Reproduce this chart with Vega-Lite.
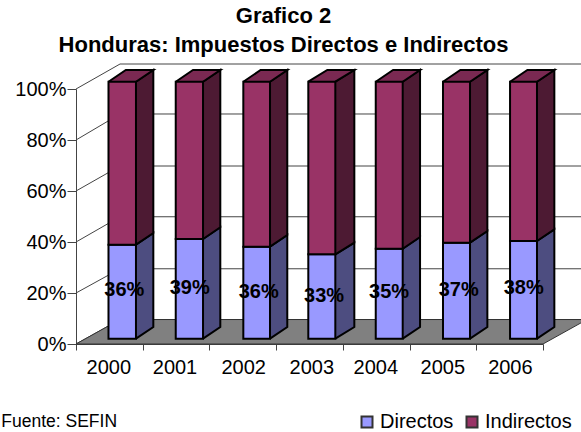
{"$schema":"https://vega.github.io/schema/vega-lite/v6.json","width":467,"height":255,"autosize":"none","padding":{"left":76,"top":89,"right":38,"bottom":88},"background":"white","title":{"text":["Grafico 2","Honduras: Impuestos Directos e Indirectos"],"font":"Liberation Sans","fontSize":22,"fontWeight":"bold","color":"black","anchor":"middle","dx":-26,"offset":5,"lineHeight":29},"config":{"view":{"stroke":null}},"datasets":{"grid":[{"linea":"g0","orden":0,"x":0,"y":0},{"linea":"g0","orden":1,"x":0.66,"y":9.6},{"linea":"g0","orden":2,"x":7.66,"y":9.6},{"linea":"g20","orden":0,"x":0,"y":20},{"linea":"g20","orden":1,"x":0.66,"y":29.5},{"linea":"g20","orden":2,"x":7.66,"y":29.5},{"linea":"g40","orden":0,"x":0,"y":40},{"linea":"g40","orden":1,"x":0.66,"y":49.9},{"linea":"g40","orden":2,"x":7.66,"y":49.9},{"linea":"g60","orden":0,"x":0,"y":60},{"linea":"g60","orden":1,"x":0.66,"y":69.8},{"linea":"g60","orden":2,"x":7.66,"y":69.8},{"linea":"g80","orden":0,"x":0,"y":80},{"linea":"g80","orden":1,"x":0.66,"y":90.2},{"linea":"g80","orden":2,"x":7.66,"y":90.2},{"linea":"g100","orden":0,"x":0,"y":100},{"linea":"g100","orden":1,"x":0.66,"y":109.8},{"linea":"g100","orden":2,"x":7.66,"y":109.8}],"suelo":[{"cara":"Suelo","orden":0,"x":0,"y":0},{"cara":"Suelo","orden":1,"x":0.66,"y":9.6},{"cara":"Suelo","orden":2,"x":7.66,"y":9.6},{"cara":"Suelo","orden":3,"x":7,"y":0},{"cara":"Suelo","orden":4,"x":0,"y":0}],"caras":[
{"p":"a0","cara":"Directos lado","orden":0,"x":0.899,"y":2.08},{"p":"a0","cara":"Directos lado","orden":1,"x":1.159,"y":6.67},{"p":"a0","cara":"Directos lado","orden":2,"x":1.159,"y":43.53},{"p":"a0","cara":"Directos lado","orden":3,"x":0.899,"y":38.94},
{"p":"b0","cara":"Indirectos lado","orden":0,"x":0.899,"y":38.94},{"p":"b0","cara":"Indirectos lado","orden":1,"x":1.159,"y":43.53},{"p":"b0","cara":"Indirectos lado","orden":2,"x":1.159,"y":107.45},{"p":"b0","cara":"Indirectos lado","orden":3,"x":0.899,"y":102.86},
{"p":"c0","cara":"Indirectos tapa","orden":0,"x":0.487,"y":102.86},{"p":"c0","cara":"Indirectos tapa","orden":1,"x":0.747,"y":107.45},{"p":"c0","cara":"Indirectos tapa","orden":2,"x":1.159,"y":107.45},{"p":"c0","cara":"Indirectos tapa","orden":3,"x":0.899,"y":102.86},
{"p":"a1","cara":"Directos lado","orden":0,"x":1.904,"y":2.08},{"p":"a1","cara":"Directos lado","orden":1,"x":2.163,"y":6.67},{"p":"a1","cara":"Directos lado","orden":2,"x":2.163,"y":45.77},{"p":"a1","cara":"Directos lado","orden":3,"x":1.904,"y":41.18},
{"p":"b1","cara":"Indirectos lado","orden":0,"x":1.904,"y":41.18},{"p":"b1","cara":"Indirectos lado","orden":1,"x":2.163,"y":45.77},{"p":"b1","cara":"Indirectos lado","orden":2,"x":2.163,"y":107.45},{"p":"b1","cara":"Indirectos lado","orden":3,"x":1.904,"y":102.86},
{"p":"c1","cara":"Indirectos tapa","orden":0,"x":1.495,"y":102.86},{"p":"c1","cara":"Indirectos tapa","orden":1,"x":1.754,"y":107.45},{"p":"c1","cara":"Indirectos tapa","orden":2,"x":2.163,"y":107.45},{"p":"c1","cara":"Indirectos tapa","orden":3,"x":1.904,"y":102.86},
{"p":"a2","cara":"Directos lado","orden":0,"x":2.908,"y":2.08},{"p":"a2","cara":"Directos lado","orden":1,"x":3.167,"y":6.67},{"p":"a2","cara":"Directos lado","orden":2,"x":3.167,"y":42.75},{"p":"a2","cara":"Directos lado","orden":3,"x":2.908,"y":38.16},
{"p":"b2","cara":"Indirectos lado","orden":0,"x":2.908,"y":38.16},{"p":"b2","cara":"Indirectos lado","orden":1,"x":3.167,"y":42.75},{"p":"b2","cara":"Indirectos lado","orden":2,"x":3.167,"y":107.45},{"p":"b2","cara":"Indirectos lado","orden":3,"x":2.908,"y":102.86},
{"p":"c2","cara":"Indirectos tapa","orden":0,"x":2.508,"y":102.86},{"p":"c2","cara":"Indirectos tapa","orden":1,"x":2.767,"y":107.45},{"p":"c2","cara":"Indirectos tapa","orden":2,"x":3.167,"y":107.45},{"p":"c2","cara":"Indirectos tapa","orden":3,"x":2.908,"y":102.86},
{"p":"a3","cara":"Directos lado","orden":0,"x":3.887,"y":2.08},{"p":"a3","cara":"Directos lado","orden":1,"x":4.172,"y":6.67},{"p":"a3","cara":"Directos lado","orden":2,"x":4.172,"y":39.77},{"p":"a3","cara":"Directos lado","orden":3,"x":3.887,"y":35.18},
{"p":"b3","cara":"Indirectos lado","orden":0,"x":3.887,"y":35.18},{"p":"b3","cara":"Indirectos lado","orden":1,"x":4.172,"y":39.77},{"p":"b3","cara":"Indirectos lado","orden":2,"x":4.172,"y":107.45},{"p":"b3","cara":"Indirectos lado","orden":3,"x":3.887,"y":102.86},
{"p":"c3","cara":"Indirectos tapa","orden":0,"x":3.482,"y":102.86},{"p":"c3","cara":"Indirectos tapa","orden":1,"x":3.767,"y":107.45},{"p":"c3","cara":"Indirectos tapa","orden":2,"x":4.172,"y":107.45},{"p":"c3","cara":"Indirectos tapa","orden":3,"x":3.887,"y":102.86},
{"p":"a4","cara":"Directos lado","orden":0,"x":4.897,"y":2.08},{"p":"a4","cara":"Directos lado","orden":1,"x":5.157,"y":6.67},{"p":"a4","cara":"Directos lado","orden":2,"x":5.157,"y":41.96},{"p":"a4","cara":"Directos lado","orden":3,"x":4.897,"y":37.37},
{"p":"b4","cara":"Indirectos lado","orden":0,"x":4.897,"y":37.37},{"p":"b4","cara":"Indirectos lado","orden":1,"x":5.157,"y":41.96},{"p":"b4","cara":"Indirectos lado","orden":2,"x":5.157,"y":107.45},{"p":"b4","cara":"Indirectos lado","orden":3,"x":4.897,"y":102.86},
{"p":"c4","cara":"Indirectos tapa","orden":0,"x":4.493,"y":102.86},{"p":"c4","cara":"Indirectos tapa","orden":1,"x":4.753,"y":107.45},{"p":"c4","cara":"Indirectos tapa","orden":2,"x":5.157,"y":107.45},{"p":"c4","cara":"Indirectos tapa","orden":3,"x":4.897,"y":102.86},
{"p":"a5","cara":"Directos lado","orden":0,"x":5.906,"y":2.08},{"p":"a5","cara":"Directos lado","orden":1,"x":6.166,"y":6.67},{"p":"a5","cara":"Directos lado","orden":2,"x":6.166,"y":44.32},{"p":"a5","cara":"Directos lado","orden":3,"x":5.906,"y":39.73},
{"p":"b5","cara":"Indirectos lado","orden":0,"x":5.906,"y":39.73},{"p":"b5","cara":"Indirectos lado","orden":1,"x":6.166,"y":44.32},{"p":"b5","cara":"Indirectos lado","orden":2,"x":6.166,"y":107.45},{"p":"b5","cara":"Indirectos lado","orden":3,"x":5.906,"y":102.86},
{"p":"c5","cara":"Indirectos tapa","orden":0,"x":5.501,"y":102.86},{"p":"c5","cara":"Indirectos tapa","orden":1,"x":5.761,"y":107.45},{"p":"c5","cara":"Indirectos tapa","orden":2,"x":6.166,"y":107.45},{"p":"c5","cara":"Indirectos tapa","orden":3,"x":5.906,"y":102.86},
{"p":"a6","cara":"Directos lado","orden":0,"x":6.91,"y":2.08},{"p":"a6","cara":"Directos lado","orden":1,"x":7.17,"y":6.67},{"p":"a6","cara":"Directos lado","orden":2,"x":7.17,"y":44.98},{"p":"a6","cara":"Directos lado","orden":3,"x":6.91,"y":40.39},
{"p":"b6","cara":"Indirectos lado","orden":0,"x":6.91,"y":40.39},{"p":"b6","cara":"Indirectos lado","orden":1,"x":7.17,"y":44.98},{"p":"b6","cara":"Indirectos lado","orden":2,"x":7.17,"y":107.45},{"p":"b6","cara":"Indirectos lado","orden":3,"x":6.91,"y":102.86},
{"p":"c6","cara":"Indirectos tapa","orden":0,"x":6.506,"y":102.86},{"p":"c6","cara":"Indirectos tapa","orden":1,"x":6.766,"y":107.45},{"p":"c6","cara":"Indirectos tapa","orden":2,"x":7.17,"y":107.45},{"p":"c6","cara":"Indirectos tapa","orden":3,"x":6.91,"y":102.86}
],"barras":[
{"anio":2000,"serie":"Directos","valor":36,"x0":0.487,"x1":0.899,"y0":2.08,"y1":38.94},{"anio":2000,"serie":"Indirectos","valor":64,"x0":0.487,"x1":0.899,"y0":38.94,"y1":102.86},
{"anio":2001,"serie":"Directos","valor":39,"x0":1.495,"x1":1.904,"y0":2.08,"y1":41.18},{"anio":2001,"serie":"Indirectos","valor":61,"x0":1.495,"x1":1.904,"y0":41.18,"y1":102.86},
{"anio":2002,"serie":"Directos","valor":36,"x0":2.508,"x1":2.908,"y0":2.08,"y1":38.16},{"anio":2002,"serie":"Indirectos","valor":64,"x0":2.508,"x1":2.908,"y0":38.16,"y1":102.86},
{"anio":2003,"serie":"Directos","valor":33,"x0":3.482,"x1":3.887,"y0":2.08,"y1":35.18},{"anio":2003,"serie":"Indirectos","valor":67,"x0":3.482,"x1":3.887,"y0":35.18,"y1":102.86},
{"anio":2004,"serie":"Directos","valor":35,"x0":4.493,"x1":4.897,"y0":2.08,"y1":37.37},{"anio":2004,"serie":"Indirectos","valor":65,"x0":4.493,"x1":4.897,"y0":37.37,"y1":102.86},
{"anio":2005,"serie":"Directos","valor":37,"x0":5.501,"x1":5.906,"y0":2.08,"y1":39.73},{"anio":2005,"serie":"Indirectos","valor":63,"x0":5.501,"x1":5.906,"y0":39.73,"y1":102.86},
{"anio":2006,"serie":"Directos","valor":38,"x0":6.506,"x1":6.91,"y0":2.08,"y1":40.39},{"anio":2006,"serie":"Indirectos","valor":62,"x0":6.506,"x1":6.91,"y0":40.39,"y1":102.86}
],"etiquetas":[{"texto":"36%","x":0.724,"y":21.0},{"texto":"39%","x":1.704,"y":21.8},{"texto":"36%","x":2.739,"y":20.4},{"texto":"33%","x":3.718,"y":18.82},{"texto":"35%","x":4.692,"y":20.4},{"texto":"37%","x":5.737,"y":21.0},{"texto":"38%","x":6.711,"y":21.8}],"anios":[{"texto":"2000","x":0.492,"y":-9.4},{"texto":"2001","x":1.484,"y":-9.4},{"texto":"2002","x":2.514,"y":-9.4},{"texto":"2003","x":3.534,"y":-9.4},{"texto":"2004","x":4.494,"y":-9.4},{"texto":"2005","x":5.499,"y":-9.4},{"texto":"2006","x":6.511,"y":-9.4}],"nota":[{"texto":"Fuente: SEFIN","x":-1.12,"y":-30.6}]},
"layer":[
{"data":{"name":"grid"},"mark":{"type":"line","stroke":"#444444","strokeWidth":1},"encoding":{"x":{"field":"x","type":"quantitative","scale":{"domain":[0,7],"nice":false,"zero":false},"axis":{"values":[0,1,2,3,4,5,6,7],"grid":false,"title":null,"domainColor":"#444444","tickColor":"#444444","tickSize":6,"labels":false}},"y":{"field":"y","type":"quantitative","scale":{"domain":[0,100],"nice":false},"axis":{"values":[0,20,40,60,80,100],"grid":false,"title":null,"labelExpr":"datum.value+'%'","domainColor":"#444444","tickColor":"#444444","tickSize":9,"labelFont":"Liberation Sans","labelFontSize":20,"labelColor":"black","labelPadding":1}},"detail":{"field":"linea"},"order":{"field":"orden"}}},
{"data":{"name":"suelo"},"mark":{"type":"line","stroke":"#333333","strokeWidth":1},"encoding":{"x":{"field":"x","type":"quantitative"},"y":{"field":"y","type":"quantitative"},"fill":{"field":"cara","type":"nominal","scale":{"domain":["Directos","Indirectos","Directos lado","Indirectos lado","Indirectos tapa","Suelo"],"range":["#9999FF","#993366","#4D4D80","#4D1A33","#7A2952","#808080"]}},"order":{"field":"orden"}}},
{"data":{"name":"caras"},"mark":{"type":"line","stroke":"black","strokeWidth":2,"strokeJoin":"miter"},"encoding":{"x":{"field":"x","type":"quantitative"},"y":{"field":"y","type":"quantitative"},"fill":{"field":"cara","type":"nominal"},"detail":{"field":"p"},"order":{"field":"orden"}}},
{"data":{"name":"barras"},"mark":{"type":"rect","stroke":"black","strokeWidth":2},"encoding":{"x":{"field":"x0","type":"quantitative"},"x2":{"field":"x1"},"y":{"field":"y0","type":"quantitative"},"y2":{"field":"y1"},"fill":{"field":"serie","type":"nominal","legend":{"title":null,"orient":"none","legendX":281,"legendY":323,"direction":"horizontal","values":["Directos","Indirectos"],"symbolType":"square","symbolSize":121,"symbolStrokeColor":"black","symbolStrokeWidth":2,"symbolOpacity":1,"labelFont":"Liberation Sans","labelFontSize":20,"labelColor":"black","labelLimit":200,"columnPadding":8,"labelOffset":3,"padding":0}}}},
{"data":{"name":"etiquetas"},"mark":{"type":"text","font":"Liberation Sans","fontWeight":"bold","fontSize":20,"color":"black","align":"center","baseline":"middle"},"encoding":{"x":{"field":"x","type":"quantitative"},"y":{"field":"y","type":"quantitative"},"text":{"field":"texto"}}},
{"data":{"name":"anios"},"mark":{"type":"text","font":"Liberation Sans","fontSize":20,"color":"black","align":"center","baseline":"middle"},"encoding":{"x":{"field":"x","type":"quantitative"},"y":{"field":"y","type":"quantitative"},"text":{"field":"texto"}}},
{"data":{"name":"nota"},"mark":{"type":"text","font":"Liberation Sans","fontSize":17.5,"color":"black","align":"left","baseline":"middle"},"encoding":{"x":{"field":"x","type":"quantitative"},"y":{"field":"y","type":"quantitative"},"text":{"field":"texto"}}}
]}
